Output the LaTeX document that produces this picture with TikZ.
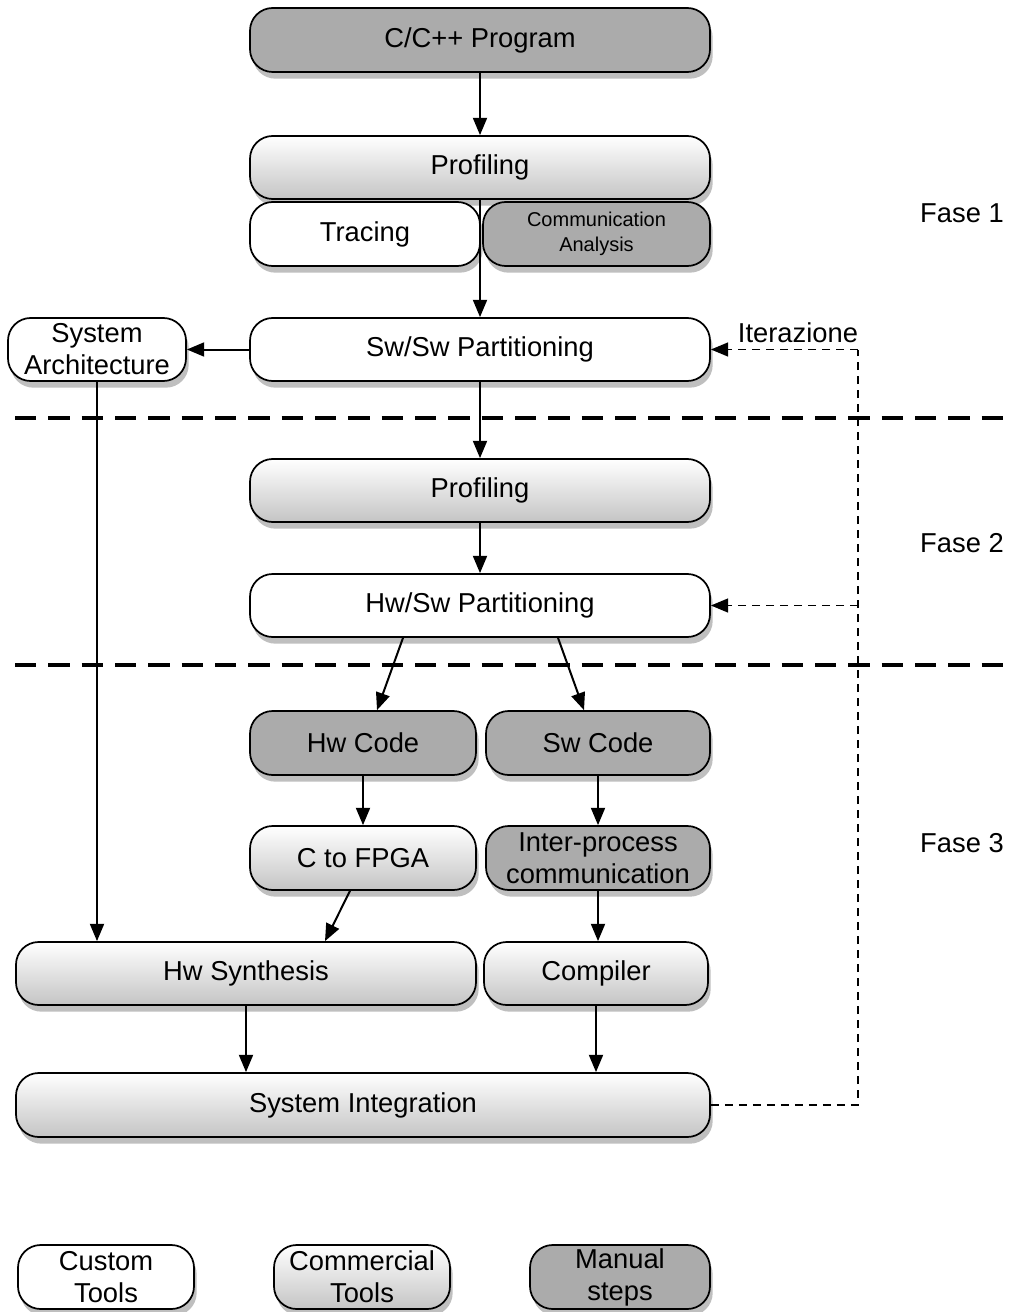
\documentclass[tikz,border=0pt]{standalone}
\usepackage{fontspec}
\setmainfont{Liberation Sans}
\usetikzlibrary{shadows,arrows.meta,calc}

\begin{document}
\begin{tikzpicture}[x=0.75pt,y=-0.75pt]
\tikzset{
  box/.style={draw=black, line width=1.3pt, rounded corners=17pt, align=center,
    inner sep=0pt, font=\fontsize{20.5}{24}\selectfont,
    drop shadow={shadow xshift=2pt, shadow yshift=-5pt, opacity=0.25, fill=black}},
  sz/.style 2 args={minimum width=#1*0.75pt, minimum height=#2*0.75pt},
  custom/.style={box, fill=white},
  commercial/.style={box, top color=white, bottom color=black!23},
  manual/.style={box, fill=black!33},
  tip/.style={-{Triangle[length=13pt,width=10.5pt]}},
  flow/.style={line width=1.5pt, tip},
  phase/.style={line width=3pt, dash pattern=on 16pt off 9pt},
  loop/.style={line width=1.2pt, dash pattern=on 6pt off 4.5pt},
  label/.style={font=\fontsize{20.5}{24}\selectfont, inner sep=0pt},
}
\useasboundingbox (0,0) rectangle (1011,1312);

% phase separators
\draw[phase] (15,418) -- (1016,418);
\draw[phase] (15,665) -- (1016,665);

% phase 1
\node[manual, sz={460}{64}] (prog) at (480,40) {C/C++ Program};
\node[commercial, sz={460}{63}] (prof1) at (480,167.5) {Profiling};
\node[custom, sz={230}{64}] (trac) at (365,234) {Tracing};
\node[manual, sz={227}{64}, font=\fontsize{15}{19}\selectfont] (comm) at (596.5,234) {Communication\\Analysis};
\node[custom, sz={178}{63}] (sysarch) at (97,349.5) {System\\Architecture};
\node[custom, sz={460}{63}] (swsw) at (480,349.5) {Sw/Sw Partitioning};

% phase 2
\node[commercial, sz={460}{63}] (prof2) at (480,490.5) {Profiling};
\node[custom, sz={460}{63}] (hwsw) at (480,605.5) {Hw/Sw Partitioning};

% phase 3
\node[manual, sz={226}{64}] (hwcode) at (363,743) {Hw Code};
\node[manual, sz={224}{64}] (swcode) at (598,743) {Sw Code};
\node[commercial, sz={226}{64}] (c2fpga) at (363,858) {C to FPGA};
\node[manual, sz={224}{64}] (ipc) at (598,858) {Inter-process\\communication};
\node[commercial, sz={460}{63}] (hwsyn) at (246,973.5) {Hw Synthesis};
\node[commercial, sz={224}{63}] (compiler) at (596,973.5) {Compiler};
\node[commercial, sz={694}{64}] (sysint) at (363,1105) {System Integration};

% legend
\node[custom, sz={176}{64}] (lcustom) at (106,1277) {Custom\\Tools};
\node[commercial, sz={176}{64}] (lcomm) at (362,1277) {Commercial\\Tools};
\node[manual, sz={180}{64}] (lmanual) at (620,1277) {Manual\\steps};

% phase labels
\node[label] (f1) at (962,213) {Fase 1};
\node[label] (f2) at (962,543) {Fase 2};
\node[label] (f3) at (962,843) {Fase 3};
\node[label] (iter) at (798,333) {Iterazione};

% main flow
\draw[flow] (prog.south) -- (prof1.north);
\draw[flow] (prof1.south) -- (swsw.north);
\draw[flow] (swsw.west) -- (sysarch.east);
\draw[flow] (swsw.south) -- (prof2.north);
\draw[flow] (prof2.south) -- (hwsw.north);
\draw[flow] ($(hwsw.south)+(-77,0)$) -- ($(hwcode.north)+(14,0)$);
\draw[flow] ($(hwsw.south)+(78,0)$) -- ($(swcode.north)+(-14,0)$);
\draw[flow] (hwcode.south) -- (c2fpga.north);
\draw[flow] (swcode.south) -- (ipc.north);
\draw[flow] ($(c2fpga.south)+(-13,0)$) -- ($(hwsyn.north)+(79,0)$);
\draw[flow] (ipc.south) -- (ipc.south |- compiler.north);
\draw[flow] (sysarch.south) -- (sysarch.south |- hwsyn.north);
\draw[flow] (hwsyn.south) -- (hwsyn.south |- sysint.north);
\draw[flow] (compiler.south) -- (compiler.south |- sysint.north);

% iteration feedback
\coordinate (fb) at (858,0);
\draw[loop] (sysint.east) -| (fb |- swsw.east);
\draw[loop, tip] (fb |- swsw.east) -- (swsw.east);
\draw[loop, tip] (fb |- hwsw.east) -- (hwsw.east);
\end{tikzpicture}
\end{document}
